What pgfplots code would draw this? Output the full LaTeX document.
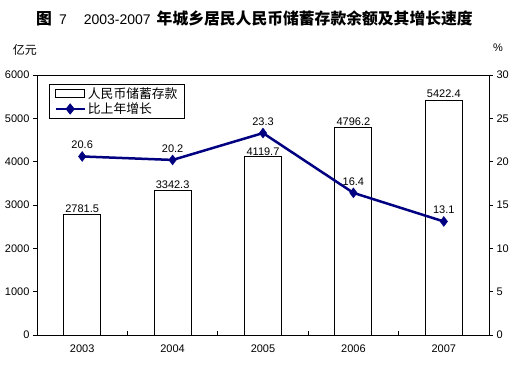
\documentclass[border=0pt]{standalone}
\usepackage{pgfplots}
\pgfplotsset{compat=1.18}
\usepackage{fontspec}
\setmainfont{Liberation Sans}
\newfontfamily\cjk{Noto Sans CJK SC}
\definecolor{navy}{RGB}{0,0,128}
\newcommand\fs{\fontsize{11}{12.5}\selectfont}
\begin{document}
\begin{tikzpicture}[x=1pt,y=1pt]
\path (-37,-35) rectangle (482,335);
\node[anchor=west,inner sep=0] at (-1,317) {{\cjk\bfseries\fontsize{15.8}{17}\selectfont 图}\hspace{7pt}{\fontsize{14}{16}\selectfont 7\hspace{17pt}2003-2007}\hspace{6pt}{\cjk\bfseries\fontsize{15.8}{17}\selectfont 年城乡居民人民币储蓄存款余额及其增长速度}};
\node at (-12,285) {\cjk\fontsize{12}{14}\selectfont 亿元};
\node at (461,287) {\fs\%};
\begin{axis}[at={(0,0)}, anchor=south west, scale only axis,
  width=452pt, height=260pt,
  xmin=-0.5, xmax=4.5, ymin=0, ymax=6000,
  font=\fs,
  /pgf/number format/assume math mode=true,
  /pgf/number format/1000 sep={},
  axis line style={line width=0.9pt},
  xtick={0,1,2,3,4}, xticklabels={2003,2004,2005,2006,2007},
  major x tick style={draw=none},
  minor xtick={0.5,1.5,2.5,3.5},
  minor tick length=4pt, major tick length=4pt,
  tick align=inside,
  xtick pos=bottom, ytick pos=left,
  ytick={0,1000,...,6000},
  ytick style={xshift=-4pt, line width=0.9pt, black},
  minor x tick style={line width=0.9pt, black},
  x tick label style={yshift=-6pt},
  y tick label style={xshift=-4pt},
]
\addplot[ybar, bar width=37pt, draw=black, fill=white, line width=0.9pt,
  point meta=explicit symbolic,
  nodes near coords,
  nodes near coords style={font=\fs, black, anchor=south, inner sep=1.5pt},
  coordinate style/.condition={\coordindex==2}{anchor=north, yshift=-1pt}]
  coordinates {(0,2781.5)[2781.5] (1,3342.3)[3342.3] (2,4119.7)[4119.7] (3,4796.2)[4796.2] (4,5422.4)[5422.4]};
\end{axis}
\begin{axis}[at={(0,0)}, anchor=south west, scale only axis,
  width=452pt, height=260pt,
  xmin=-0.5, xmax=4.5, ymin=0, ymax=30,
  font=\fs,
  /pgf/number format/assume math mode=true,
  axis x line=none, axis y line*=right,
  axis line style={line width=0.9pt, -},
  ytick={0,5,...,30},
  major tick length=4pt, tick align=inside,
  ytick style={xshift=4pt, line width=0.9pt, black},
  y tick label style={xshift=4pt},
  legend style={at={(0.0265,0.965)}, anchor=north west, draw=black, line width=0.9pt,
    font=\cjk\fontsize{12.8}{14}\selectfont, inner xsep=5pt, inner ysep=1pt,
    row sep=-1pt, /tikz/every even column/.append style={column sep=2pt}},
  legend cell align=left,
]
\addlegendimage{legend image code/.code={\draw[black, fill=white, line width=0.9pt] (0pt,-4pt) rectangle (29pt,4pt);}}
\addlegendentry{人民币储蓄存款}
\addlegendimage{legend image code/.code={\draw[navy, line width=2.5pt] (0pt,0pt) -- (29pt,0pt); \fill[navy] (14.5pt,5pt) -- (18.5pt,0pt) -- (14.5pt,-5pt) -- (10.5pt,0pt) -- cycle;}}
\addlegendentry{比上年增长}
\addplot[navy, line width=2.5pt, mark=diamond*, mark size=5pt, mark options={solid, line width=0.4pt},
  point meta=explicit symbolic, nodes near coords,
  nodes near coords style={font=\fs, black, anchor=south, yshift=4pt}]
  coordinates {(0,20.6)[20.6] (1,20.2)[20.2] (2,23.3)[23.3] (3,16.4)[16.4] (4,13.1)[13.1]};
\end{axis}
\end{tikzpicture}
\end{document}
